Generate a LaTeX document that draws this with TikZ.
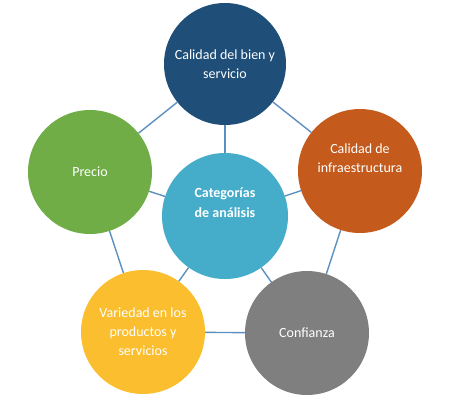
\documentclass[tikz,border=0pt]{standalone}
\usepackage{fontspec}
\setmainfont{Carlito}
\usepackage{tikz}

\definecolor{bienblue}{HTML}{1F4E79}
\definecolor{catblue}{HTML}{45ADCA}
\definecolor{preciogreen}{HTML}{70AD47}
\definecolor{infraorange}{HTML}{C45A1C}
\definecolor{varyellow}{HTML}{FBBE2E}
\definecolor{confgray}{HTML}{7F7F7F}
\definecolor{linkblue}{HTML}{5B8FBF}

\tikzset{
	bubble/.style={circle, minimum size=124pt, inner sep=0pt, text=white, align=center,
		font=\fontsize{14}{19}\selectfont},
	link/.style={linkblue, line width=1.4pt}
}

\begin{document}
\begin{tikzpicture}[x=1pt, y=-1pt]
	\useasboundingbox (0,0) rectangle (451,400);
	\node[bubble, fill=bienblue, minimum size=122pt] (bien) at (225, 64) {Calidad del bien y\\servicio};
	\node[bubble, fill=catblue, minimum size=126pt, font=\bfseries\fontsize{14}{20}\selectfont] (cat) at (225,216) {Categorías\\de análisis\\[6pt]};
	\node[bubble, fill=preciogreen] (precio) at ( 90,172) {Precio};
	\node[bubble, fill=infraorange] (infra) at (360,171) {Calidad de\\infraestructura\\[6pt]};
	\node[bubble, fill=varyellow] (var) at (143,332) {Variedad en los\\productos y\\servicios};
	\node[bubble, fill=confgray] (conf) at (307,333) {Confianza};
	% pentagon
	\draw[link] (bien) -- (precio);
	\draw[link] (bien) -- (infra);
	\draw[link] (precio) -- (var);
	\draw[link] (infra) -- (conf);
	\draw[link] (var) -- (conf);
	% spokes
	\foreach \n in {bien, precio, infra, var, conf}
		\draw[link] (cat) -- (\n);
\end{tikzpicture}
\end{document}
